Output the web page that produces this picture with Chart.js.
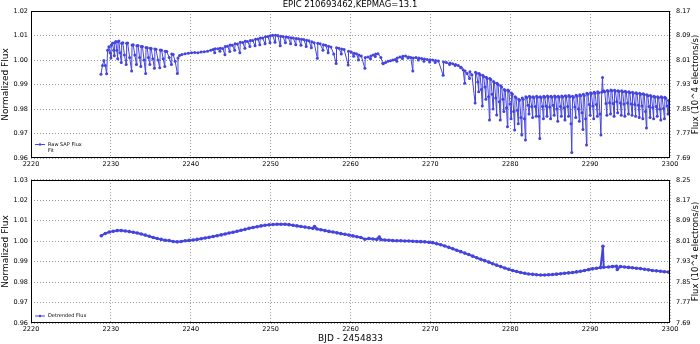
<!DOCTYPE html>
<html>
<head>
<meta charset="utf-8">
<script src="https://cdn.jsdelivr.net/npm/chart.js@4/dist/chart.umd.min.js"></script>
<style>
  body { margin: 0; background: #fff; }
  canvas { display: block; }
</style>
</head>
<body>
<canvas id="rawChart" width="700" height="170"></canvas>
<canvas id="detChart" width="700" height="174"></canvas>
<script>
const chartTitle = "EPIC 210693462,KEPMAG=13.1";
const xTitle = "BJD - 2454833";
const leftTitle = "Normalized Flux";
const rightTitle = "Flux (10^4 electrons/s)";

const xTicks = [2220, 2230, 2240, 2250, 2260, 2270, 2280, 2290, 2300];
const topLeftTicks = [0.96, 0.97, 0.98, 0.99, 1.00, 1.01, 1.02];
const topRightTicks = [7.69, 7.77, 7.85, 7.93, 8.01, 8.09, 8.17];
const botLeftTicks = [0.96, 0.97, 0.98, 0.99, 1.00, 1.01, 1.02, 1.03];
const botRightTicks = [7.69, 7.77, 7.85, 7.93, 8.01, 8.09, 8.17, 8.25];

// [day, normalized flux]
const rawFlux = [
  [2228.76,0.9942],[2228.95,0.9978],[2229.12,0.9998],[2229.30,0.9978],[2229.47,0.9944],
  [2229.59,1.0040],[2229.75,1.0054],[2229.90,1.0030],[2230.01,1.0008],
  [2230.05,1.0060],[2230.20,1.0068],[2230.35,1.0040],[2230.43,1.0017],
  [2230.47,1.0070],[2230.62,1.0076],[2230.75,1.0040],[2230.85,1.0005],
  [2230.90,1.0075],[2231.00,1.0078],[2231.15,1.0030],[2231.30,0.9990],
  [2231.35,1.0068],[2231.50,1.0070],[2231.70,1.0020],[2231.92,0.9982],
  [2231.97,1.0068],[2232.10,1.0069],[2232.35,1.0010],[2232.60,0.9955],
  [2232.65,1.0061],[2232.80,1.0062],[2233.00,1.0020],[2233.20,0.9982],
  [2233.25,1.0058],[2233.40,1.0059],[2233.60,1.0010],[2233.75,0.9973],
  [2233.80,1.0055],[2233.95,1.0055],[2234.15,1.0000],[2234.35,0.9945],
  [2234.40,1.0051],[2234.55,1.0050],[2234.70,1.0010],[2234.88,0.9982],
  [2234.93,1.0048],[2235.05,1.0047],[2235.25,1.0005],[2235.45,0.9966],
  [2235.50,1.0045],[2235.65,1.0044],[2235.90,1.0000],[2236.12,0.9968],
  [2236.18,1.0041],[2236.35,1.0040],[2236.55,1.0005],[2236.75,0.9973],
  [2236.80,1.0036],[2237.00,1.0035],[2237.30,1.0010],[2237.58,0.9982],
  [2237.62,1.0025],[2237.80,1.0022],[2238.05,0.9995],[2238.32,0.9945],
  [2238.40,1.0008],[2238.60,1.0018],[2238.90,1.0022],[2239.30,1.0026],[2239.70,1.0028],
  [2240.10,1.0030],[2240.50,1.0031],[2240.90,1.0030],[2241.30,1.0033],[2241.70,1.0034],
  [2242.10,1.0036],[2242.50,1.0040],[2242.80,1.0043],[2243.00,1.0030],
  [2243.05,1.0046],[2243.40,1.0046],[2243.65,1.0036],
  [2243.70,1.0048],[2244.00,1.0047],[2244.28,1.0021],
  [2244.32,1.0055],[2244.60,1.0056],[2244.88,1.0035],
  [2244.92,1.0061],[2245.20,1.0060],[2245.50,1.0040],
  [2245.55,1.0066],[2245.85,1.0065],[2246.15,1.0030],
  [2246.20,1.0072],[2246.50,1.0071],[2246.78,1.0048],
  [2246.82,1.0077],[2247.10,1.0076],[2247.40,1.0055],
  [2247.45,1.0080],[2247.75,1.0080],[2248.05,1.0058],
  [2248.10,1.0085],[2248.40,1.0086],[2248.65,1.0062],
  [2248.70,1.0090],[2249.00,1.0090],[2249.30,1.0066],
  [2249.35,1.0095],[2249.65,1.0096],[2249.92,1.0070],
  [2249.96,1.0099],[2250.25,1.0101],[2250.55,1.0072],
  [2250.60,1.0101],[2250.90,1.0100],[2251.20,1.0058],
  [2251.25,1.0097],[2251.55,1.0096],[2251.85,1.0070],
  [2251.90,1.0094],[2252.20,1.0093],[2252.50,1.0066],
  [2252.55,1.0091],[2252.85,1.0090],[2253.15,1.0062],
  [2253.20,1.0088],[2253.50,1.0087],[2253.80,1.0060],
  [2253.85,1.0085],[2254.15,1.0084],[2254.45,1.0055],
  [2254.50,1.0081],[2254.80,1.0079],[2255.10,1.0050],
  [2255.15,1.0075],[2255.45,1.0070],[2255.85,1.0007],
  [2255.90,1.0068],[2256.20,1.0066],[2256.55,1.0040],
  [2256.60,1.0062],[2256.90,1.0060],[2257.20,1.0030],
  [2257.25,1.0056],[2257.55,1.0053],[2257.90,1.0025],[2258.20,0.9986],
  [2258.25,1.0050],[2258.55,1.0048],[2258.85,1.0025],
  [2258.90,1.0045],[2259.20,1.0043],[2259.70,0.9980],
  [2259.75,1.0036],[2260.10,1.0033],[2260.40,1.0015],
  [2260.45,1.0028],[2260.75,1.0026],[2261.00,1.0000],
  [2261.05,1.0020],[2261.35,1.0016],[2261.80,0.9966],
  [2261.85,1.0010],[2262.20,1.0012],[2262.50,1.0005],
  [2262.55,1.0016],[2262.85,1.0020],[2263.10,1.0014],
  [2263.15,1.0025],[2263.45,1.0026],[2263.80,1.0010],[2264.05,0.9987],
  [2264.10,0.9985],[2264.40,0.9990],[2264.70,0.9995],
  [2265.00,0.9997],[2265.30,1.0000],[2265.60,1.0002],[2265.80,0.9995],
  [2265.85,1.0008],[2266.20,1.0012],[2266.50,1.0006],
  [2266.55,1.0015],[2266.90,1.0016],[2267.20,1.0008],
  [2267.25,1.0012],[2267.55,1.0010],[2267.80,0.9955],
  [2267.85,1.0008],[2268.20,1.0010],[2268.50,1.0000],
  [2268.55,1.0008],[2268.90,1.0006],[2269.20,0.9995],
  [2269.25,1.0004],[2269.60,1.0002],[2269.90,0.9992],
  [2269.95,1.0001],[2270.30,1.0000],[2270.60,0.9990],
  [2270.65,0.9998],[2271.00,0.9996],[2271.60,0.9938],
  [2271.65,0.9992],[2272.00,0.9990],[2272.40,0.9982],
  [2272.45,0.9988],[2272.80,0.9985],[2273.10,0.9978],
  [2273.15,0.9982],[2273.50,0.9978],[2273.80,0.9968],
  [2273.85,0.9970],[2274.10,0.9960],[2274.30,0.9905],
  [2274.35,0.9955],[2274.60,0.9945],[2274.90,0.9925],
  [2274.95,0.9952],[2275.20,0.9940],[2275.60,0.9824],
  [2275.65,0.9950],[2275.77,0.9946],[2275.93,0.9910],[2276.05,0.9870],
  [2276.10,0.9945],[2276.22,0.9940],[2276.38,0.9880],[2276.50,0.9812],
  [2276.55,0.9938],[2276.67,0.9933],[2276.83,0.9890],[2276.95,0.9840],
  [2277.00,0.9930],[2277.12,0.9925],[2277.28,0.9850],[2277.40,0.9755],
  [2277.45,0.9925],[2277.57,0.9920],[2277.73,0.9860],[2277.85,0.9800],
  [2277.90,0.9912],[2278.02,0.9907],[2278.18,0.9845],[2278.30,0.9776],
  [2278.35,0.9905],[2278.47,0.9900],[2278.63,0.9830],[2278.75,0.9755],
  [2278.80,0.9895],[2278.92,0.9890],[2279.08,0.9840],[2279.20,0.9790],
  [2279.25,0.9880],[2279.37,0.9876],[2279.53,0.9805],[2279.65,0.9728],
  [2279.70,0.9878],[2279.82,0.9873],[2279.98,0.9820],[2280.10,0.9760],
  [2280.15,0.9865],[2280.27,0.9860],[2280.43,0.9790],[2280.55,0.9714],
  [2280.60,0.9850],[2280.72,0.9846],[2280.88,0.9795],[2281.00,0.9740],
  [2281.05,0.9840],[2281.17,0.9836],[2281.33,0.9765],[2281.45,0.9694],
  [2281.50,0.9845],[2281.62,0.9840],[2281.78,0.9760],[2281.90,0.9673],
  [2281.95,0.9850],[2282.07,0.9846],[2282.23,0.9815],[2282.35,0.9780],
  [2282.40,0.9852],[2282.52,0.9848],[2282.68,0.9810],[2282.80,0.9765],
  [2282.85,0.9850],[2282.97,0.9846],[2283.13,0.9810],[2283.25,0.9770],
  [2283.30,0.9852],[2283.42,0.9848],[2283.58,0.9770],[2283.70,0.9680],
  [2283.75,0.9850],[2283.87,0.9846],[2284.03,0.9810],[2284.15,0.9760],
  [2284.20,0.9852],[2284.32,0.9848],[2284.48,0.9812],[2284.60,0.9770],
  [2284.65,0.9853],[2284.77,0.9849],[2284.93,0.9808],[2285.05,0.9760],
  [2285.10,0.9852],[2285.22,0.9848],[2285.38,0.9815],[2285.50,0.9775],
  [2285.55,0.9853],[2285.67,0.9849],[2285.83,0.9800],[2285.95,0.9750],
  [2286.00,0.9852],[2286.12,0.9848],[2286.28,0.9810],[2286.40,0.9770],
  [2286.45,0.9853],[2286.57,0.9849],[2286.73,0.9805],[2286.85,0.9755],
  [2286.90,0.9854],[2287.02,0.9850],[2287.18,0.9810],[2287.30,0.9770],
  [2287.35,0.9855],[2287.47,0.9850],[2287.60,0.9740],[2287.70,0.9622],
  [2287.80,0.9852],[2287.92,0.9848],[2288.08,0.9808],[2288.20,0.9765],
  [2288.25,0.9856],[2288.37,0.9852],[2288.53,0.9800],[2288.65,0.9750],
  [2288.70,0.9858],[2288.82,0.9854],[2288.98,0.9785],[2289.10,0.9716],
  [2289.15,0.9860],[2289.27,0.9855],[2289.43,0.9760],[2289.55,0.9653],
  [2289.60,0.9864],[2289.72,0.9860],[2289.88,0.9818],[2290.00,0.9775],
  [2290.05,0.9866],[2290.17,0.9862],[2290.33,0.9812],[2290.45,0.9760],
  [2290.50,0.9868],[2290.62,0.9864],[2290.78,0.9818],[2290.90,0.9770],
  [2290.95,0.9870],[2291.07,0.9866],[2291.23,0.9780],[2291.35,0.9694],
  [2291.45,0.9868],[2291.55,0.9929],[2291.62,0.9872],
  [2291.70,0.9874],[2291.82,0.9870],[2291.98,0.9822],[2292.10,0.9775],
  [2292.15,0.9876],[2292.27,0.9872],[2292.43,0.9826],[2292.55,0.9780],
  [2292.60,0.9878],[2292.72,0.9874],[2292.88,0.9822],[2293.00,0.9770],
  [2293.05,0.9877],[2293.17,0.9873],[2293.33,0.9830],[2293.45,0.9785],
  [2293.50,0.9875],[2293.62,0.9871],[2293.78,0.9824],[2293.90,0.9775],
  [2293.95,0.9874],[2294.07,0.9870],[2294.23,0.9820],[2294.35,0.9770],
  [2294.40,0.9872],[2294.52,0.9868],[2294.68,0.9825],[2294.80,0.9780],
  [2294.85,0.9870],[2294.97,0.9866],[2295.13,0.9820],[2295.25,0.9775],
  [2295.30,0.9868],[2295.42,0.9864],[2295.58,0.9818],[2295.70,0.9770],
  [2295.75,0.9866],[2295.87,0.9862],[2296.03,0.9815],[2296.15,0.9765],
  [2296.20,0.9864],[2296.32,0.9860],[2296.48,0.9812],[2296.60,0.9760],
  [2296.65,0.9862],[2296.77,0.9858],[2296.93,0.9790],[2297.05,0.9722],
  [2297.10,0.9858],[2297.22,0.9854],[2297.38,0.9810],[2297.50,0.9765],
  [2297.55,0.9855],[2297.67,0.9851],[2297.83,0.9806],[2297.95,0.9760],
  [2298.00,0.9852],[2298.12,0.9848],[2298.28,0.9810],[2298.40,0.9770],
  [2298.45,0.9850],[2298.57,0.9846],[2298.73,0.9800],[2298.85,0.9755],
  [2298.90,0.9850],[2299.02,0.9846],[2299.18,0.9802],[2299.30,0.9760],
  [2299.35,0.9848],[2299.47,0.9844],[2299.63,0.9812],[2299.75,0.9780],
  [2299.80,0.9835],[2299.90,0.9824]
];

// [day, normalized flux]
const detrendedFlux = [
  [2228.8,1.0027],[2229.3,1.0038],[2229.8,1.0045],[2230.3,1.0049],[2230.8,1.0052],
  [2231.3,1.0052],[2231.8,1.0050],[2232.3,1.0047],[2232.8,1.0044],[2233.3,1.0040],
  [2233.8,1.0035],[2234.3,1.0030],[2234.8,1.0024],[2235.3,1.0018],[2235.8,1.0013],
  [2236.3,1.0009],[2236.8,1.0005],[2237.3,1.0003],[2237.8,0.9999],[2238.3,0.9997],
  [2238.8,0.9999],[2239.3,1.0002],[2239.8,1.0004],[2240.3,1.0006],[2240.8,1.0009],
  [2241.3,1.0012],[2241.8,1.0016],[2242.3,1.0019],[2242.8,1.0023],[2243.3,1.0027],
  [2243.8,1.0031],[2244.3,1.0035],[2244.8,1.0040],[2245.3,1.0044],[2245.8,1.0049],
  [2246.3,1.0054],[2246.8,1.0058],[2247.3,1.0063],[2247.8,1.0067],[2248.3,1.0071],
  [2248.8,1.0075],[2249.3,1.0078],[2249.8,1.0080],[2250.3,1.0082],[2250.8,1.0083],
  [2251.3,1.0083],[2251.8,1.0083],[2252.3,1.0081],[2252.8,1.0078],[2253.3,1.0075],
  [2253.8,1.0072],[2254.3,1.0069],[2254.8,1.0066],[2255.3,1.0063],[2255.5,1.0072],
  [2255.8,1.0060],[2256.3,1.0056],[2256.8,1.0052],[2257.3,1.0048],[2257.8,1.0045],
  [2258.3,1.0041],[2258.8,1.0037],[2259.3,1.0034],[2259.8,1.0030],[2260.3,1.0026],
  [2260.8,1.0022],[2261.3,1.0018],[2261.8,1.0010],[2262.3,1.0013],[2262.8,1.0011],
  [2263.3,1.0009],[2263.6,1.0020],[2263.8,1.0008],[2264.3,1.0006],[2264.8,1.0005],
  [2265.3,1.0003],[2265.8,1.0002],[2266.3,1.0002],[2266.8,1.0001],[2267.3,1.0001],
  [2267.8,1.0000],[2268.3,0.9999],[2268.8,0.9998],[2269.3,0.9997],[2269.8,0.9995],
  [2270.3,0.9993],[2270.8,0.9988],[2271.3,0.9983],[2271.8,0.9977],[2272.3,0.9970],
  [2272.8,0.9963],[2273.3,0.9956],[2273.8,0.9949],[2274.3,0.9942],[2274.8,0.9935],
  [2275.3,0.9927],[2275.8,0.9919],[2276.3,0.9912],[2276.8,0.9905],[2277.3,0.9898],
  [2277.8,0.9890],[2278.3,0.9883],[2278.8,0.9876],[2279.3,0.9869],[2279.8,0.9863],
  [2280.3,0.9857],[2280.8,0.9852],[2281.3,0.9847],[2281.8,0.9843],[2282.3,0.9840],
  [2282.8,0.9838],[2283.3,0.9836],[2283.8,0.9835],[2284.3,0.9835],[2284.8,0.9836],
  [2285.3,0.9837],[2285.8,0.9839],[2286.3,0.9841],[2286.8,0.9843],[2287.3,0.9845],
  [2287.8,0.9847],[2288.3,0.9850],[2288.8,0.9853],[2289.3,0.9857],[2289.8,0.9861],
  [2290.3,0.9865],[2290.8,0.9868],[2291.3,0.9871],[2291.6,0.9975],[2291.7,0.9873],
  [2292.3,0.9874],[2292.8,0.9876],[2293.3,0.9877],[2293.4,0.9862],[2293.8,0.9876],
  [2294.3,0.9874],[2294.8,0.9872],[2295.3,0.9870],[2295.8,0.9868],[2296.3,0.9866],
  [2296.8,0.9863],[2297.3,0.9860],[2297.8,0.9857],[2298.3,0.9855],[2298.8,0.9853],
  [2299.3,0.9851],[2299.8,0.9849]
];

const blue = "rgb(68,68,222)";
Chart.defaults.font.family = '"DejaVu Sans", sans-serif';
Chart.defaults.color = "#000";

// frame, right-hand axis title and small legend inside the plot
const extras = {
  id: "extras",
  afterDraw(chart) {
    const { ctx, chartArea: a } = chart;
    ctx.save();
    ctx.strokeStyle = "#000";
    ctx.lineWidth = 1;
    ctx.strokeRect(Math.round(a.left) + 0.5, Math.round(a.top) + 0.5,
      Math.round(a.width) - 1, Math.round(a.height) - 1);

    ctx.font = '8.5px "DejaVu Sans"';
    ctx.fillStyle = "#000";
    ctx.textAlign = "center";
    ctx.textBaseline = "middle";
    ctx.translate(696, (a.top + a.bottom) / 2);
    ctx.rotate(-Math.PI / 2);
    ctx.fillText(rightTitle, 0, 0);
    ctx.restore();

    ctx.save();
    ctx.font = '5px "DejaVu Sans"';
    ctx.textBaseline = "middle";
    const sets = chart.data.datasets;
    sets.forEach((ds, i) => {
      const y = a.bottom - 7 - (sets.length - 1 - i) * 6.5;
      if (ds.borderColor !== "rgba(0,0,0,0)") {
        ctx.strokeStyle = ds.borderColor;
        ctx.lineWidth = 1;
        ctx.beginPath();
        ctx.moveTo(a.left + 4, y);
        ctx.lineTo(a.left + 14, y);
        ctx.stroke();
        ctx.fillStyle = ds.borderColor;
        ctx.beginPath();
        ctx.arc(a.left + 9, y, 1.2, 0, Math.PI * 2);
        ctx.fill();
      }
      ctx.fillStyle = "#000";
      ctx.fillText(ds.label, a.left + 17, y);
    });
    ctx.restore();
  }
};

function makeScales(leftTicks, rightTicks, showXTitle) {
  return {
    x: {
      type: "linear",
      min: 2220, max: 2300,
      afterBuildTicks: s => { s.ticks = xTicks.map(v => ({ value: v })); },
      afterFit: s => { s.height = showXTitle ? 21 : 12; },
      ticks: { font: { size: 6.5 }, padding: 2, maxRotation: 0, callback: v => v },
      grid: { color: "#999", drawTicks: false },
      border: { display: false, dash: [1, 2] },
      title: { display: showXTitle, text: xTitle, font: { size: 9, lineHeight: 1.2 }, padding: { top: 0, bottom: 0 } }
    },
    y: {
      position: "left",
      min: leftTicks[0], max: leftTicks[leftTicks.length - 1],
      afterBuildTicks: s => { s.ticks = leftTicks.map(v => ({ value: v })); },
      afterFit: s => { s.width = 31; },
      ticks: { font: { size: 6.5 }, padding: 3, callback: v => v.toFixed(2) },
      grid: { color: "#999", drawTicks: false },
      border: { display: false, dash: [1, 2] },
      title: { display: true, text: leftTitle, font: { size: 9, lineHeight: 1.2 }, padding: 0 }
    },
    y2: {
      position: "right",
      min: rightTicks[0], max: rightTicks[rightTicks.length - 1],
      afterBuildTicks: s => { s.ticks = rightTicks.map(v => ({ value: v })); },
      afterFit: s => { s.width = 30; },
      ticks: { font: { size: 6.5 }, padding: 6, callback: v => v.toFixed(2) },
      grid: { display: false, drawTicks: false },
      border: { display: false }
    }
  };
}

new Chart(document.getElementById("rawChart"), {
  type: "line",
  data: {
    datasets: [
      {
        label: "Raw SAP Flux",
        data: rawFlux.map(p => ({ x: p[0], y: p[1] })),
        borderColor: blue, backgroundColor: blue,
        borderWidth: 1, pointRadius: 1.5, pointBorderWidth: 0
      },
      {
        label: "Fit",
        data: [],
        borderColor: "rgba(0,0,0,0)", backgroundColor: "rgba(0,0,0,0)"
      }
    ]
  },
  options: {
    responsive: false, animation: false, devicePixelRatio: 1,
    layout: { padding: 0 },
    plugins: {
      legend: { display: false },
      tooltip: { enabled: false },
      title: { display: true, text: chartTitle, font: { size: 8.5, lineHeight: 1, weight: "normal" }, padding: { top: 1, bottom: 1.5 }, color: "#000" }
    },
    scales: makeScales(topLeftTicks, topRightTicks, false)
  },
  plugins: [extras]
});

new Chart(document.getElementById("detChart"), {
  type: "line",
  data: {
    datasets: [
      {
        label: "Detrended Flux",
        data: detrendedFlux.map(p => ({ x: p[0], y: p[1] })),
        borderColor: blue, backgroundColor: blue,
        borderWidth: 2, pointRadius: 1.8, pointBorderWidth: 0
      }
    ]
  },
  options: {
    responsive: false, animation: false, devicePixelRatio: 1,
    layout: { padding: { top: 6 } },
    plugins: {
      legend: { display: false },
      tooltip: { enabled: false }
    },
    scales: makeScales(botLeftTicks, botRightTicks, true)
  },
  plugins: [extras]
});
</script>
</body>
</html>
